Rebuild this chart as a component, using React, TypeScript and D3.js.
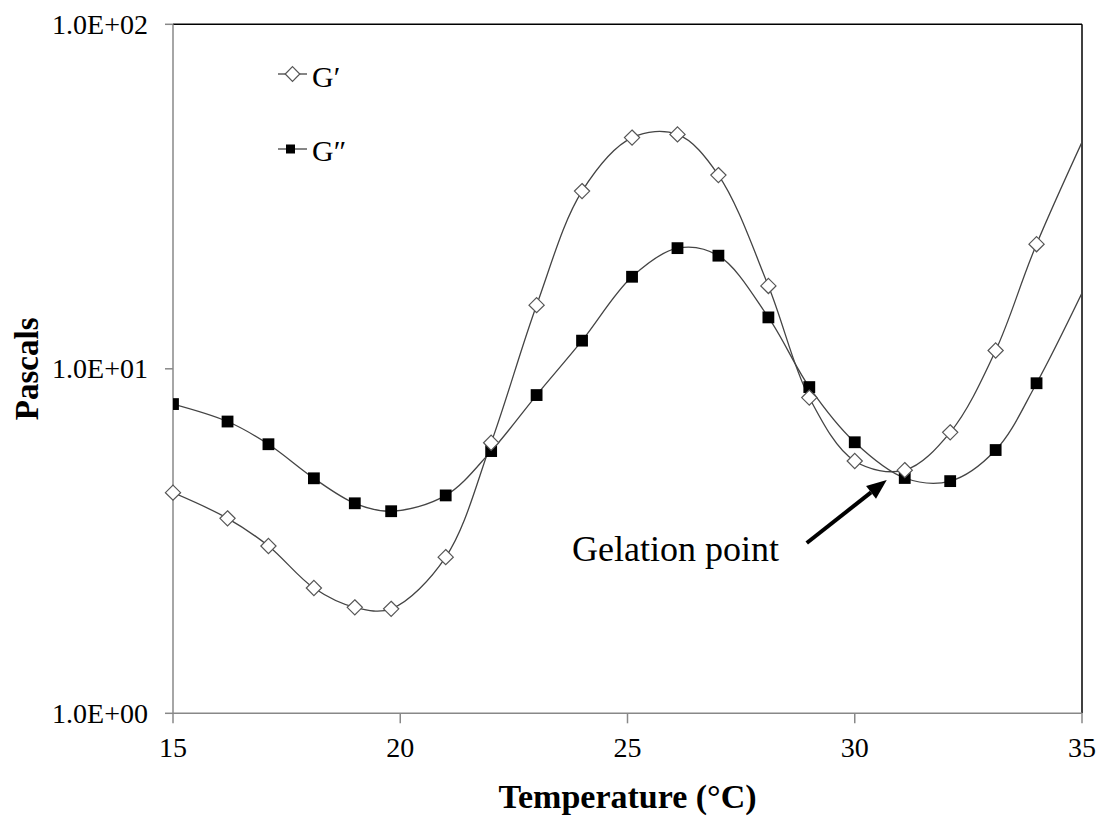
import React from "react";
import * as d3 from "d3";

// Temperature sweep (°C) and moduli (Pa)
const temps = [15.0, 16.2, 17.1, 18.1, 19.0, 19.8, 21.0, 22.0, 23.0, 24.0, 25.1, 26.1, 27.0, 28.1, 29.0, 30.0, 31.1, 32.1, 33.1, 34.0, 35.9];
const gPrime = [4.37, 3.68, 3.06, 2.31, 2.03, 2.01, 2.84, 6.1, 15.3, 32.8, 46.9, 47.9, 36.5, 17.4, 8.25, 5.4, 5.08, 6.54, 11.3, 23.0, 82];
const gDouble = [7.9, 7.03, 6.04, 4.81, 4.07, 3.86, 4.29, 5.77, 8.39, 12.07, 18.5, 22.4, 21.3, 14.1, 8.85, 6.12, 4.82, 4.72, 5.81, 9.08, 29.5];

const xTicks = [15, 20, 25, 30, 35];
const yTicks = [1, 10, 100];
const yTickLabels = ["1.0E+00", "1.0E+01", "1.0E+02"];

const seriesNames = ["G\u2032", "G\u2033"];
const gelationLabel = "Gelation point";
const gelationTemp = 31.1;
const gelationValue = 4.95;

const serif: React.CSSProperties = {
  fontFamily: "'Liberation Serif', 'Times New Roman', serif",
};

export default function App() {
  const W = 1099;
  const H = 820;
  const left = 173;
  const right = 1082;
  const top = 24.3;
  const bottom = 713.3;

  const x = d3.scaleLinear().domain([15, 35]).range([left, right]);
  const y = d3.scaleLog().domain([1, 100]).range([bottom, top]);

  const line = d3
    .line<[number, number]>()
    .x((d) => x(d[0]))
    .y((d) => y(d[1]))
    .curve(d3.curveCatmullRom.alpha(0.5));

  const ptsP: [number, number][] = temps.map((t, i) => [t, gPrime[i]]);
  const ptsD: [number, number][] = temps.map((t, i) => [t, gDouble[i]]);
  const visP = ptsP.filter((p) => p[0] <= 35);
  const visD = ptsD.filter((p) => p[0] <= 35);

  const dia = 7.6;
  const sq = 5.9;
  const diamondPath = (cx: number, cy: number, r: number) =>
    `M${cx},${cy - r}L${cx + r},${cy}L${cx},${cy + r}L${cx - r},${cy}Z`;

  // arrow toward the crossover point
  const tipX = x(gelationTemp) - 18;
  const tipY = y(gelationValue) + 6;
  const tailX = tipX - 80;
  const tailY = tipY + 63;
  const ang = Math.atan2(tipY - tailY, tipX - tailX);
  const headLen = 20;
  const headW = 8;
  const bx = tipX - headLen * Math.cos(ang);
  const by = tipY - headLen * Math.sin(ang);
  const px = -Math.sin(ang);
  const py = Math.cos(ang);

  return (
    <svg
      width={W}
      height={H}
      style={{ position: "absolute", left: 0, top: 0, background: "#fff" }}
    >
      <defs>
        <clipPath id="plotClip">
          <rect x={left} y={top} width={right - left} height={bottom - top} />
        </clipPath>
      </defs>
      <rect x={0} y={0} width={W} height={H} fill="#fff" />

      {/* frame */}
      <line x1={left} y1={top} x2={right} y2={top} stroke="#000" strokeWidth={1.5} />
      <line x1={right} y1={top} x2={right} y2={bottom} stroke="#000" strokeWidth={1.5} />
      <line x1={left} y1={top} x2={left} y2={bottom} stroke="#888" strokeWidth={1.5} />
      <line x1={left} y1={bottom} x2={right} y2={bottom} stroke="#888" strokeWidth={1.5} />

      {/* y axis */}
      {yTicks.map((v, i) => (
        <g key={"y" + v}>
          <line x1={left - 8} x2={left} y1={y(v)} y2={y(v)} stroke="#888" strokeWidth={1.5} />
          <text
            x={148}
            y={y(v)}
            dy="0.34em"
            textAnchor="end"
            style={serif}
            fontSize={28}
            fill="#000"
          >
            {yTickLabels[i]}
          </text>
        </g>
      ))}

      {/* x axis */}
      {xTicks.map((v) => (
        <g key={"x" + v}>
          <line x1={x(v)} x2={x(v)} y1={bottom} y2={bottom + 10} stroke="#888" strokeWidth={1.5} />
          <text
            x={x(v)}
            y={757}
            textAnchor="middle"
            style={serif}
            fontSize={28}
            fill="#000"
          >
            {v}
          </text>
        </g>
      ))}

      <text
        x={(left + right) / 2}
        y={808}
        textAnchor="middle"
        style={serif}
        fontWeight="bold"
        fontSize={34}
        fill="#000"
      >
        Temperature (°C)
      </text>
      <text
        transform={`translate(38,${(top + bottom) / 2}) rotate(-90)`}
        textAnchor="middle"
        style={serif}
        fontWeight="bold"
        fontSize={33}
        fill="#000"
      >
        Pascals
      </text>

      {/* series */}
      <g clipPath="url(#plotClip)">
        <path d={line(ptsP) || ""} fill="none" stroke="#444" strokeWidth={1.3} />
        <path d={line(ptsD) || ""} fill="none" stroke="#444" strokeWidth={1.3} />
        {visD.map((p, i) => (
          <rect
            key={"d" + i}
            x={x(p[0]) - sq}
            y={y(p[1]) - sq}
            width={sq * 2}
            height={sq * 2}
            fill="#000"
          />
        ))}
      </g>
      {visP.map((p, i) => (
        <path
          key={"p" + i}
          d={diamondPath(x(p[0]), y(p[1]), dia)}
          fill="#fff"
          stroke="#555"
          strokeWidth={1.2}
        />
      ))}

      {/* legend */}
      <g>
        <line x1={278} x2={307} y1={74} y2={74} stroke="#444" strokeWidth={1.3} />
        <path d={diamondPath(292.5, 74, 7.3)} fill="#fff" stroke="#555" strokeWidth={1.2} />
        <text x={312} y={86.5} style={serif} fontSize={30} fill="#000">
          {seriesNames[0]}
        </text>
        <line x1={278} x2={307} y1={149} y2={149} stroke="#444" strokeWidth={1.3} />
        <rect x={286} y={144.5} width={9} height={9} fill="#000" />
        <text x={312} y={161} style={serif} fontSize={30} fill="#000">
          {seriesNames[1]}
        </text>
      </g>

      {/* annotation */}
      <text x={572} y={561} style={serif} fontSize={36} fill="#000">
        {gelationLabel}
      </text>
      <line x1={tailX} y1={tailY} x2={bx} y2={by} stroke="#000" strokeWidth={4} />
      <path
        d={`M${tipX},${tipY}L${bx + px * headW},${by + py * headW}L${bx - px * headW},${by - py * headW}Z`}
        fill="#000"
      />
    </svg>
  );
}
